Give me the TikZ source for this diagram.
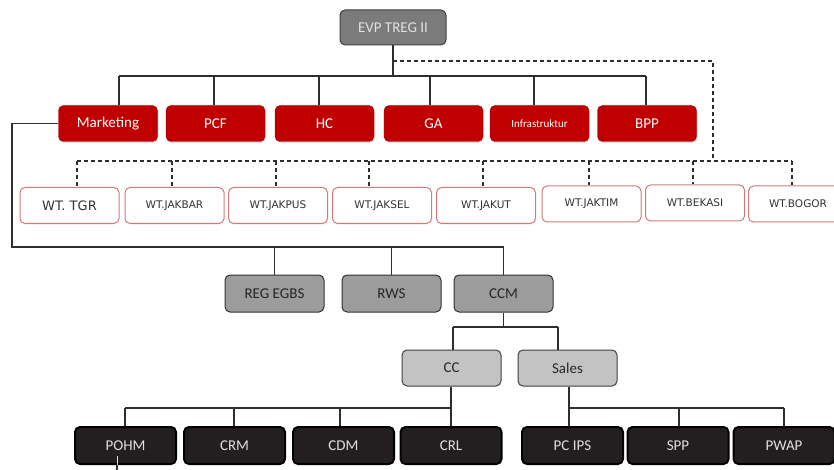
\documentclass[tikz,border=0pt]{standalone}
\usepackage{fontspec}
\setmainfont{Carlito}
\newfontfamily\wtfont{DejaVu Sans}
\usetikzlibrary{shadows}
\definecolor{evpgray}{HTML}{7B7B7B}
\definecolor{unitred}{HTML}{C00000}
\definecolor{reggray}{HTML}{9C9C9C}
\definecolor{subgray}{HTML}{C3C3C3}
\definecolor{staffdark}{HTML}{231F20}
\definecolor{wtline}{HTML}{D27A7A}
\definecolor{linegray}{HTML}{2E2E2E}
\begin{document}
\begin{tikzpicture}[x=1pt, y=-1pt,
    box/.style={rounded corners=5pt, minimum width=99pt, minimum height=36pt, inner sep=0pt,
        font=\fontsize{15}{15}\selectfont},
    evpbox/.style={box, fill=evpgray, draw=black!75, line width=1pt, text=white!88!black,
        minimum width=106pt, minimum height=35pt},
    unit/.style={box, fill=unitred, draw=unitred!85!black, line width=0.4pt, text=white,
        drop shadow={opacity=0.25, shadow xshift=1pt, shadow yshift=-1.5pt}},
    wt/.style={box, fill=white, draw=wtline, line width=1pt, text=black!80,
        font=\wtfont\fontsize{10.5}{10.5}\selectfont},
    regbox/.style={box, fill=reggray, draw=black!80, line width=1pt, text=black!85, minimum height=37pt},
    subbox/.style={box, fill=subgray, draw=black!75, line width=1pt, text=black!85},
    staff/.style={box, fill=staffdark, draw=black, line width=2pt, text=white!88!black,
        minimum width=101pt, minimum height=37pt},
    link/.style={draw=linegray, line width=1.2pt},
    dlink/.style={link, dash pattern=on 4pt off 3pt}]
            \useasboundingbox (0,0) rectangle (834,470);

            \node[evpbox] (evp) at (393,27.5) {EVP TREG II};

            \node[unit] (mkt)   at (108,123.5)   {Marketing};
            \node[unit] (pcf)   at (215.5,123.5) {PCF};
            \node[unit] (hc)    at (324.5,123.5) {HC};
            \node[unit] (ga)    at (433.5,123.5) {GA};
            \node[unit, font=\fontsize{11}{11}\selectfont] (infra) at (539.5,123.5) {Infrastruktur};
            \node[unit] (bpp)   at (647,123.5)   {BPP};

            \node[wt, font=\wtfont\fontsize{13}{13}\selectfont] (tgr) at (69.5,205.5) {WT. TGR};
            \node[wt] (jakbar) at (174.5,205.5) {WT.JAKBAR};
            \node[wt] (jakpus) at (278,205.5)   {WT.JAKPUS};
            \node[wt] (jaksel) at (382,205.5)   {WT.JAKSEL};
            \node[wt] (jakut)  at (486,205.5)   {WT.JAKUT};
            \node[wt] (jaktim) at (591.5,204)   {WT.JAKTIM};
            \node[wt] (bekasi) at (695,203)     {WT.BEKASI};
            \node[wt] (bogor)  at (798,204)     {WT.BOGOR};

            \node[regbox] (reg) at (274.5,293.5) {REG EGBS};
            \node[regbox] (rws) at (391.5,293.5) {RWS};
            \node[regbox] (ccm) at (503.5,293.5) {CCM};

            \node[subbox] (cc)    at (451.5,368) {CC};
            \node[subbox] (sales) at (567.5,368) {Sales};

            \node[staff] (pohm)  at (125.5,445.5) {POHM};
            \node[staff] (crm)   at (234.5,445.5) {CRM};
            \node[staff] (cdm)   at (343.5,445.5) {CDM};
            \node[staff] (crl)   at (451,445.5)   {CRL};
            \node[staff] (pcips) at (572.5,445.5) {PC IPS};
            \node[staff] (spp)   at (678,445.5)   {SPP};
            \node[staff] (pwap)  at (784,445.5)   {PWAP};

            \foreach \n/\x in {mkt/119, pcf/214, hc/319, ga/430, infra/534, bpp/646} {
                \coordinate (\n-t) at (\x,76);
                \draw[link] (\n-t) -- (\n-t |- \n.north);
            }
            \draw[link] (mkt-t) -- (bpp-t);
            \draw[link] (evp.south) -- (evp.south |- mkt-t);

            \coordinate (dashtop) at (393,61);
            \coordinate (dashbend) at (713,161);
            \draw[dlink] (dashtop) -| (dashbend);
            \foreach \n/\x in {tgr/77, jakbar/172, jakpus/276, jaksel/369, jakut/483, jaktim/589, bekasi/693, bogor/792} {
                \coordinate (\n-u) at (\x,161);
                \draw[dlink] (\n-u) -- (\n-u |- \n.north);
            }
            \draw[dlink] (tgr-u) -- (bogor-u);

            \coordinate (mktbend) at (12,247);
            \draw[link] (mkt.west) -| (mktbend) -| (ccm.north);
            \draw[link] (reg.north) -- (reg.north |- mktbend);
            \draw[link] (rws.north) -- (rws.north |- mktbend);

            \coordinate (ccj) at (453,327);
            \coordinate (salesj) at (558,327);
            \draw[link] (ccm.south) -- (ccm.south |- ccj);
            \draw[link] (ccj) -- (salesj);
            \draw[link] (ccj) -- (ccj |- cc.north);
            \draw[link] (salesj) -- (salesj |- sales.north);

            \foreach \n/\x in {pohm/125, crm/234, cdm/340, crl/451, pcips/569, spp/679, pwap/784} {
                \coordinate (\n-t) at (\x,408);
                \draw[link] (\n-t) -- (\n-t |- \n.north);
            }
            \draw[link] (pohm-t) -- (crl-t);
            \draw[link] (pcips-t) -- (pwap-t);
            \draw[link] (crl-t) -- (crl-t |- cc.south);
            \draw[link] (pcips-t) -- (pcips-t |- sales.south);

            \coordinate (pohmtail) at (117,456);
            \coordinate (pohmend) at (117,470);
            \draw[white!85!black, line width=1pt] (pohmtail) -- (pohmtail |- pohm.south);
            \draw[link] (pohmtail |- pohm.south) -- (pohmend);
        \end{tikzpicture}
\end{document}
